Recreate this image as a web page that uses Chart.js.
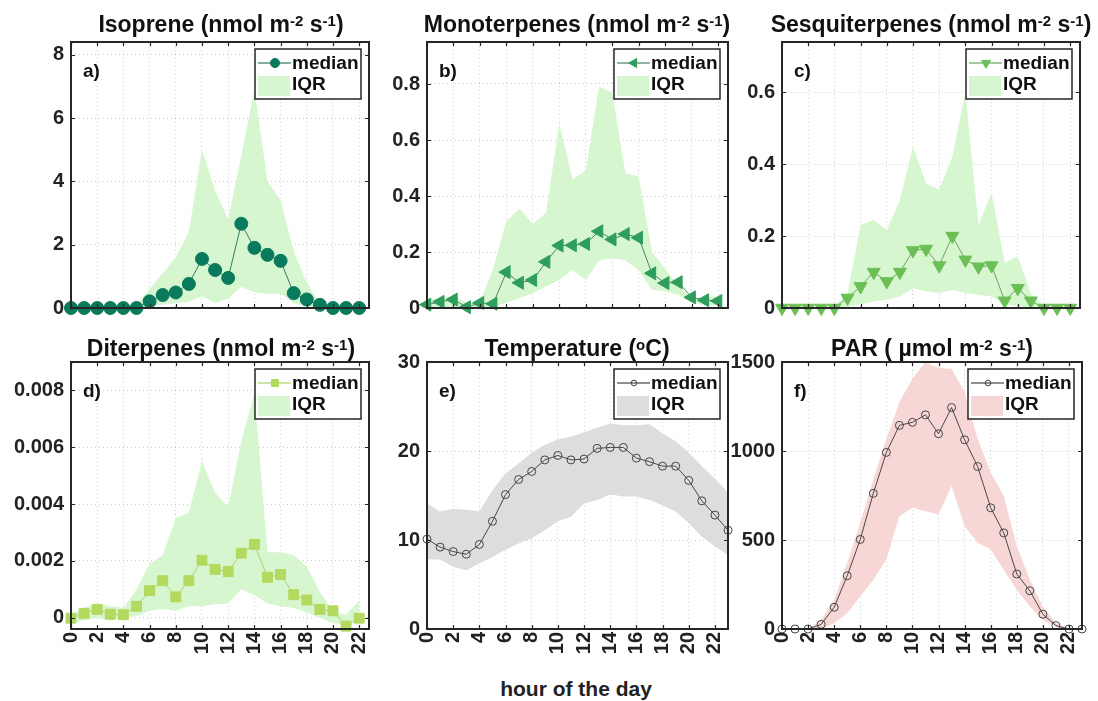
<!DOCTYPE html>
<html>
<head>
<meta charset="utf-8">
<script src="https://cdn.jsdelivr.net/npm/chart.js@4.4.1/dist/chart.umd.min.js"></script>
<style>
  body { margin: 0; background: #fff; width: 1098px; height: 701px; position: relative; overflow: hidden;
         font-family: "Liberation Sans", Arial, sans-serif; }
  canvas { position: absolute; }
  .ttl { position: absolute; font-weight: bold; font-size: 23px; line-height: 23px; color: #111;
         white-space: nowrap; transform: translateX(-50%); z-index: 2; }
  .ttl sup { font-size: 15px; line-height: 0; vertical-align: 6px; }
  #xlab { position: absolute; left: 576px; top: 678px; transform: translateX(-50%);
          font-weight: bold; font-size: 21px; line-height: 21px; color: #222; white-space: nowrap; }
</style>
</head>
<body>

<div class="ttl" style="left:221px;top:13px">Isoprene (nmol m<sup>-2</sup> s<sup>-1</sup>)</div>
<div class="ttl" style="left:577px;top:13px">Monoterpenes (nmol m<sup>-2</sup> s<sup>-1</sup>)</div>
<div class="ttl" style="left:931px;top:13px">Sesquiterpenes (nmol m<sup>-2</sup> s<sup>-1</sup>)</div>
<div class="ttl" style="left:221px;top:337px">Diterpenes (nmol m<sup>-2</sup> s<sup>-1</sup>)</div>
<div class="ttl" style="left:577px;top:337px">Temperature (<sup>o</sup>C)</div>
<div class="ttl" style="left:932px;top:337px">PAR ( µmol m<sup>-2</sup> s<sup>-1</sup>)</div>
<div id="xlab">hour of the day</div>

<canvas id="cA"></canvas>
<canvas id="cB"></canvas>
<canvas id="cC"></canvas>
<canvas id="cD"></canvas>
<canvas id="cE"></canvas>
<canvas id="cF"></canvas>

<script>
// hours
const hours23 = [0,1,2,3,4,5,6,7,8,9,10,11,12,13,14,15,16,17,18,19,20,21,22];
const hours24 = [0,1,2,3,4,5,6,7,8,9,10,11,12,13,14,15,16,17,18,19,20,21,22,23];

// a) isoprene
const isopreneMedian = [0,0,0,0,0,0,0.21,0.41,0.49,0.76,1.55,1.2,0.95,2.66,1.9,1.68,1.49,0.47,0.27,0.1,0,0,0];
const isopreneLow    = [0,0,0,0,0,0,0.05,0.1,0.15,0.2,0.38,0.15,0.3,0.67,0.5,0.45,0.45,0.15,0.05,0,0,0,0];
const isopreneHigh   = [0,0,0,0,0,0.1,0.6,1.1,1.6,2.4,5.0,3.7,2.8,4.8,6.9,4.0,3.4,1.8,0.8,0.15,0,0,0];

// b) monoterpenes
const monoMedian = [0.012,0.022,0.03,0.003,0.018,0.015,0.128,0.09,0.1,0.165,0.223,0.224,0.229,0.274,0.245,0.264,0.251,0.124,0.089,0.092,0.038,0.028,0.025];
const monoLow    = [0,0,0,0,0,0.005,0.018,0.036,0.053,0.077,0.1,0.136,0.1,0.17,0.178,0.17,0.136,0.065,0.06,0.047,0.018,0.01,0.01];
const monoHigh   = [0.03,0.035,0.04,0.02,0.02,0.14,0.31,0.355,0.3,0.34,0.66,0.46,0.49,0.79,0.77,0.48,0.47,0.2,0.14,0.08,0.035,0.04,0.04];

// c) sesquiterpenes
const sesquiMedian = [0,0,0,0,0,0.028,0.06,0.1,0.074,0.1,0.16,0.164,0.118,0.2,0.134,0.115,0.118,0.02,0.055,0.02,0,0,0];
const sesquiLow    = [0,0,0,0,0,0.003,0.01,0.018,0.023,0.032,0.055,0.046,0.042,0.05,0.042,0.037,0.032,0.01,0.005,0,0,0,0];
const sesquiHigh   = [0,0,0,0,0.005,0.04,0.23,0.245,0.217,0.3,0.45,0.346,0.33,0.42,0.6,0.23,0.32,0.125,0.143,0.04,0.005,0,0];

// d) diterpenes
const diterpMedian = [-0.00002,0.00015,0.00029,0.00012,0.0001,0.0004,0.00095,0.0013,0.00073,0.0013,0.00202,0.0017,0.00162,0.00227,0.00258,0.00142,0.00152,0.00081,0.00062,0.00029,0.00024,-0.0003,-0.00002];
const diterpLow    = [-0.0002,-0.0001,0,-0.0001,0,0.00006,0.00024,0.0003,0.00024,0.0004,0.0004,0.00047,0.0005,0.001,0.0008,0.0005,0.0004,0.00035,0.00018,0,-0.0002,-0.00024,-0.00006];
const diterpHigh   = [0.0001,0.00035,0.0005,0.0004,0.00035,0.001,0.0019,0.0022,0.0035,0.0037,0.0055,0.0044,0.0039,0.0062,0.0079,0.0023,0.0023,0.0022,0.0018,0.0009,0.0002,0.0001,0.0006];

// e) temperature
const tempMedian = [10.1,9.2,8.7,8.4,9.5,12.1,15.1,16.8,17.7,19.0,19.5,19.0,19.1,20.3,20.4,20.4,19.2,18.8,18.3,18.3,16.7,14.4,12.8,11.1];
const tempLow    = [7.8,7.8,7.0,6.6,7.4,8.1,8.9,9.6,10.2,11.1,12.1,12.6,14.1,14.5,15.1,14.9,14.9,14.5,13.9,13.2,11.9,10.4,9.3,8.3];
const tempHigh   = [14.1,13.2,13.5,13.4,13.2,15.6,17.5,18.6,19.8,20.7,21.3,21.6,22.1,22.6,23.1,22.9,22.9,23.0,22.0,21.1,19.8,18.3,16.9,15.3];

// f) PAR
const parMedian = [0,0,0,26,122,299,503,762,992,1144,1161,1203,1097,1244,1063,913,681,540,309,215,83,19,0,0];
const parLow    = [0,0,0,0,32,88,183,277,390,634,681,662,644,804,578,484,446,333,220,126,50,13,0,0];
const parHigh   = [0,0,0,50,164,371,597,841,1067,1274,1406,1500,1466,1462,1331,1067,879,747,465,277,126,32,0,0];

const GREEN_BAND = "#d5f6cf";
const FONT = '"Liberation Sans", Arial, sans-serif';

function toXY(xs, ys) {
  return xs.map((x, i) => ({ x: x, y: ys[i] }));
}

function drawMarker(ctx, m, x, y, r) {
  ctx.save();
  ctx.translate(x, y);
  ctx.rotate((m.rotation || 0) * Math.PI / 180);
  ctx.beginPath();
  if (m.style === "circle") {
    ctx.arc(0, 0, r, 0, Math.PI * 2);
  } else if (m.style === "triangle") {
    for (let k = 0; k < 3; k++) {
      const a = k * 2 * Math.PI / 3;
      const px = Math.sin(a) * r, py = -Math.cos(a) * r;
      if (k === 0) ctx.moveTo(px, py); else ctx.lineTo(px, py);
    }
    ctx.closePath();
  } else {
    const s = Math.SQRT1_2 * r;
    ctx.rect(-s, -s, 2 * s, 2 * s);
  }
  if (m.fill) { ctx.fillStyle = m.fill; ctx.fill(); }
  ctx.lineWidth = 1;
  ctx.strokeStyle = m.stroke;
  ctx.stroke();
  ctx.restore();
}

const matlabBox = {
  id: "matlabBox",
  afterDraw(chart, args, o) {
    const { ctx, chartArea: a } = chart;
    const x = chart.scales.x, y = chart.scales.y;
    ctx.save();
    ctx.strokeStyle = "#262626";
    ctx.lineWidth = 1.2;
    ctx.beginPath();
    x.ticks.forEach(t => {
      const px = Math.round(x.getPixelForValue(t.value)) + 0.5;
      ctx.moveTo(px, a.bottom); ctx.lineTo(px, a.bottom - 4);
      ctx.moveTo(px, a.top); ctx.lineTo(px, a.top + 4);
    });
    y.ticks.forEach(t => {
      const py = Math.round(y.getPixelForValue(t.value)) + 0.5;
      ctx.moveTo(a.left, py); ctx.lineTo(a.left + 4, py);
      ctx.moveTo(a.right, py); ctx.lineTo(a.right - 4, py);
    });
    ctx.stroke();
    ctx.lineWidth = 2;
    ctx.strokeRect(a.left, a.top, a.right - a.left, a.bottom - a.top);

    // panel tag
    ctx.fillStyle = "#111";
    ctx.font = "bold 19px " + FONT;
    ctx.textBaseline = "middle";
    ctx.textAlign = "left";
    ctx.fillText(o.tag, a.left + 12, a.top + 30);

    // legend
    const w = 106, h = 50;
    const lx = a.right - 8 - w, ly = a.top + 7;
    ctx.fillStyle = "#fff";
    ctx.fillRect(lx, ly, w, h);
    ctx.lineWidth = 1.5;
    ctx.strokeStyle = "#262626";
    ctx.strokeRect(lx, ly, w, h);
    ctx.beginPath();
    ctx.moveTo(lx + 3, ly + 14); ctx.lineTo(lx + 36, ly + 14);
    ctx.lineWidth = 1;
    ctx.strokeStyle = o.marker.line;
    ctx.stroke();
    drawMarker(ctx, o.marker, lx + 20, ly + 14, o.marker.radius * 0.7);
    ctx.fillStyle = o.band;
    ctx.fillRect(lx + 3, ly + 27, 32, 20);
    ctx.fillStyle = "#111";
    ctx.font = "bold 19px " + FONT;
    ctx.fillText("median", lx + 37, ly + 15);
    ctx.fillText("IQR", lx + 37, ly + 36);
    ctx.restore();
  }
};

function makePanel(id, p) {
  const L = 80, T = 14, R = 14, B = p.bottomRow ? 52 : 10;
  const cv = document.getElementById(id);
  const W = (p.r - p.l) + L + R, H = (p.b - p.t) + T + B;
  cv.width = W; cv.height = H;
  cv.style.left = (p.l - L) + "px";
  cv.style.top = (p.t - T) + "px";
  cv.style.width = W + "px";
  cv.style.height = H + "px";

  const m = p.marker;
  new Chart(cv.getContext("2d"), {
    type: "line",
    data: {
      datasets: [
        {
          label: "median",
          data: toXY(p.xs, p.median),
          borderColor: m.line,
          borderWidth: 0.8,
          pointStyle: m.style,
          pointRotation: m.rotation || 0,
          pointRadius: m.radius,
          pointBackgroundColor: m.fill || "rgba(0,0,0,0)",
          pointBorderColor: m.stroke,
          pointBorderWidth: 1,
          fill: false,
          tension: 0,
          clip: false
        },
        {
          label: "low",
          data: toXY(p.xs, p.low),
          borderWidth: 0,
          pointRadius: 0,
          fill: false
        },
        {
          label: "IQR",
          data: toXY(p.xs, p.high),
          borderWidth: 0,
          pointRadius: 0,
          backgroundColor: p.band,
          fill: { target: 1 }
        }
      ]
    },
    options: {
      responsive: false,
      animation: false,
      devicePixelRatio: 1,
      events: [],
      layout: { padding: { left: 0, top: T, right: R, bottom: 0 } },
      plugins: {
        legend: { display: false },
        tooltip: { enabled: false },
        matlabBox: { tag: p.tag, marker: m, band: p.band }
      },
      scales: {
        x: {
          type: "linear",
          min: 0,
          max: p.xmax,
          grid: { color: "rgba(0,0,0,0.2)", drawTicks: false },
          border: { display: false, dash: [1, 3] },
          ticks: {
            display: !!p.bottomRow,
            stepSize: 2,
            includeBounds: false,
            autoSkip: false,
            minRotation: 90,
            maxRotation: 90,
            padding: 3,
            color: "#222",
            font: { family: FONT, size: 20, weight: "bold" }
          },
          afterFit(s) { s.height = B; s.paddingLeft = 0; s.paddingRight = 0; }
        },
        y: {
          min: p.ymin,
          max: p.ymax,
          grid: { color: "rgba(0,0,0,0.2)", drawTicks: false },
          border: { display: false, dash: [1, 3] },
          ticks: {
            stepSize: p.ystep,
            includeBounds: false,
            padding: 7,
            color: "#222",
            font: { family: FONT, size: 20, weight: "bold" },
            callback: p.fmt
          },
          afterFit(s) { s.width = L; s.paddingTop = 0; s.paddingBottom = 0; }
        }
      }
    },
    plugins: [matlabBox]
  });
}

const fmtInt = v => String(Math.round(v));
const fmt1 = v => (Math.abs(v) < 1e-9 ? "0" : v.toFixed(1));
const fmt3 = v => (Math.abs(v) < 1e-9 ? "0" : v.toFixed(3));

makePanel("cA", { l: 71, t: 42, r: 369, b: 308, xs: hours23, xmax: 22.75,
  median: isopreneMedian, low: isopreneLow, high: isopreneHigh,
  ymin: 0, ymax: 8.4, ystep: 2, fmt: fmtInt, tag: "a)", band: GREEN_BAND,
  marker: { style: "circle", radius: 6.5, fill: "#0a7a5c", stroke: "#0a7a5c", line: "#0a5a45" } });

makePanel("cB", { l: 427, t: 42, r: 728, b: 308, xs: hours23, xmax: 22.75,
  median: monoMedian, low: monoLow, high: monoHigh,
  ymin: 0, ymax: 0.95, ystep: 0.2, fmt: fmt1, tag: "b)", band: GREEN_BAND,
  marker: { style: "triangle", rotation: -90, radius: 7.5, fill: "#2f9e5c", stroke: "#2f9e5c", line: "#2a6b45" } });

makePanel("cC", { l: 782, t: 42, r: 1080, b: 308, xs: hours23, xmax: 22.75,
  median: sesquiMedian, low: sesquiLow, high: sesquiHigh,
  ymin: 0, ymax: 0.74, ystep: 0.2, fmt: fmt1, tag: "c)", band: GREEN_BAND,
  marker: { style: "triangle", rotation: 180, radius: 7.5, fill: "#6cbf57", stroke: "#6cbf57", line: "#4f8f44" } });

makePanel("cD", { l: 71, t: 362, r: 369, b: 629, xs: hours23, xmax: 22.75, bottomRow: true,
  median: diterpMedian, low: diterpLow, high: diterpHigh,
  ymin: -0.0004, ymax: 0.009, ystep: 0.002, fmt: fmt3, tag: "d)", band: GREEN_BAND,
  marker: { style: "rect", radius: 7, fill: "#b3d95e", stroke: "#b3d95e", line: "#a3c95a" } });

makePanel("cE", { l: 427, t: 362, r: 728, b: 629, xs: hours24, xmax: 23, bottomRow: true,
  median: tempMedian, low: tempLow, high: tempHigh,
  ymin: 0, ymax: 30, ystep: 10, fmt: fmtInt, tag: "e)", band: "#dddddd",
  marker: { style: "circle", radius: 4, fill: null, stroke: "#444", line: "#222" } });

makePanel("cF", { l: 782, t: 362, r: 1082, b: 629, xs: hours24, xmax: 23, bottomRow: true,
  median: parMedian, low: parLow, high: parHigh,
  ymin: 0, ymax: 1500, ystep: 500, fmt: fmtInt, tag: "f)", band: "#f7d6d6",
  marker: { style: "circle", radius: 4, fill: null, stroke: "#444", line: "#222" } });
</script>
</body>
</html>
